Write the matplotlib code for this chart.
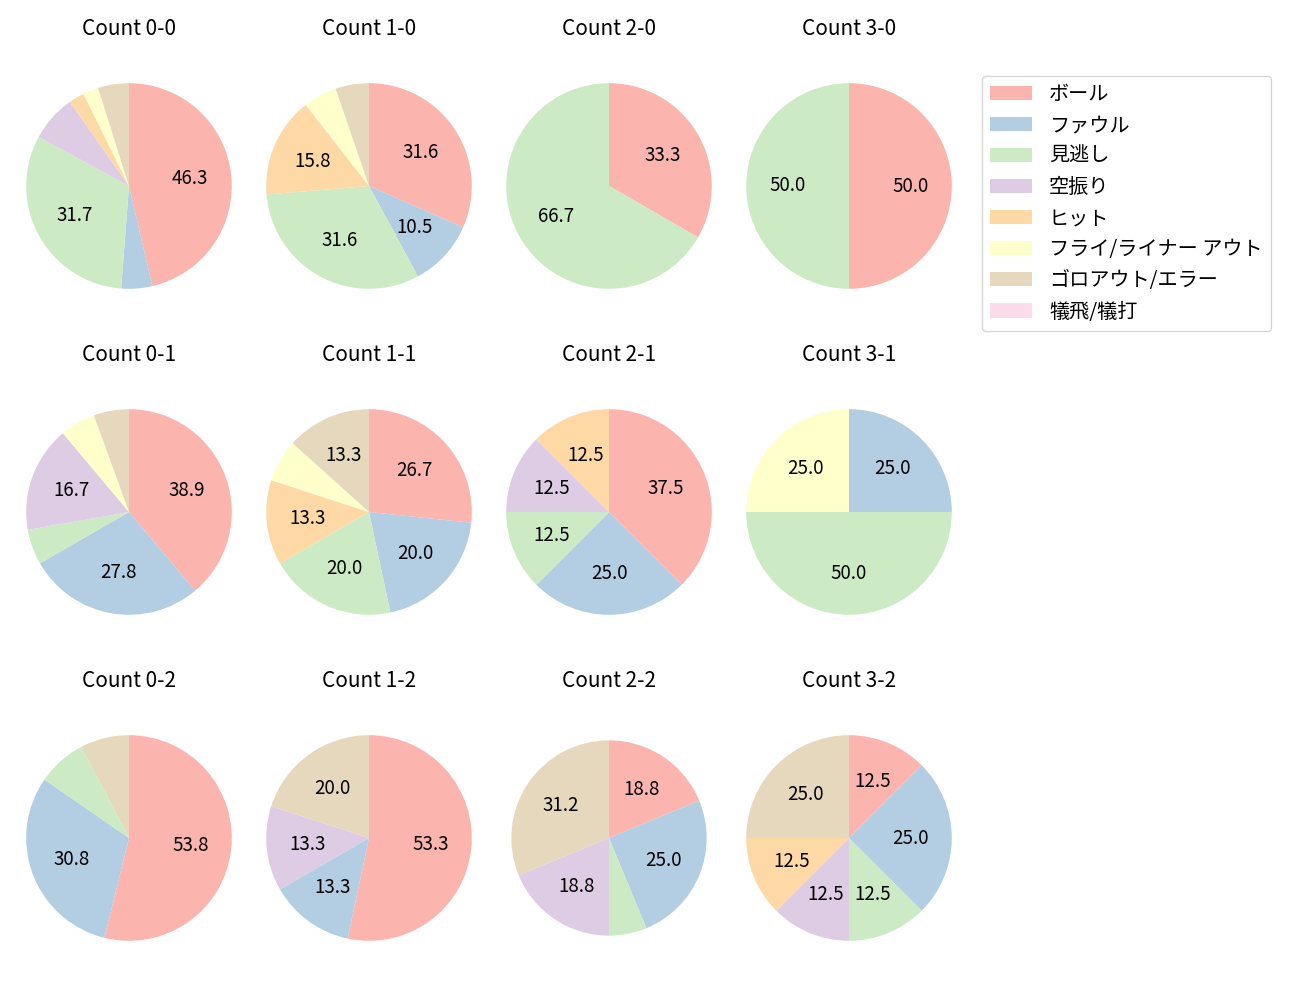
import matplotlib
matplotlib.use("Agg")
import matplotlib.pyplot as plt

plt.rcParams['font.family'] = ['Noto Sans CJK JP', 'DejaVu Sans']

categories = ['ボール', 'ファウル', '見逃し', '空振り', 'ヒット',
              'フライ/ライナー アウト', 'ゴロアウト/エラー', '犠飛/犠打']
colors = ['#fbb4ae', '#b3cde3', '#ccebc5', '#decbe4', '#fed9a6',
          '#ffffcc', '#e5d8bd', '#fddaec']

# counts per category for each ball-strike count
data = {
    '0-0': [19, 2, 13, 3, 1, 1, 2, 0],
    '1-0': [6, 2, 6, 0, 3, 1, 1, 0],
    '2-0': [1, 0, 2, 0, 0, 0, 0, 0],
    '3-0': [1, 0, 1, 0, 0, 0, 0, 0],
    '0-1': [7, 5, 1, 3, 0, 1, 1, 0],
    '1-1': [4, 3, 3, 0, 2, 1, 2, 0],
    '2-1': [3, 2, 1, 1, 1, 0, 0, 0],
    '3-1': [0, 1, 2, 0, 0, 1, 0, 0],
    '0-2': [7, 4, 1, 0, 0, 0, 1, 0],
    '1-2': [8, 2, 0, 2, 0, 0, 3, 0],
    '2-2': [3, 4, 1, 3, 0, 0, 5, 0],
    '3-2': [1, 2, 1, 1, 1, 0, 2, 0],
}
layout = [['0-0', '1-0', '2-0', '3-0'],
          ['0-1', '1-1', '2-1', '3-1'],
          ['0-2', '1-2', '2-2', '3-2']]

W, H = 1300, 1000
fig = plt.figure(figsize=(13, 10), dpi=100)

col_x = [129, 369, 609, 849]
row_y = [186, 512, 838]
size = 257

def fmt(p):
    return f'{p:.1f}' if p >= 10 else ''

for r, row in enumerate(layout):
    for c, key in enumerate(row):
        cx, cy = col_x[c], row_y[r]
        ax = fig.add_axes([(cx - size / 2) / W, 1 - (cy + size / 2) / H, size / W, size / H])
        vals = data[key]
        rad = 0.95 if key == '2-2' else 1.0
        ax.pie(vals, colors=colors, startangle=90, counterclock=False,
               autopct=fmt, pctdistance=0.6, radius=rad,
               textprops={'fontsize': 13.5})
        ax.set_title(f'Count {key}', fontsize=15, pad=16)

handles = [matplotlib.patches.Patch(facecolor=col) for col in colors]
fig.legend(handles, categories, loc='upper left', bbox_to_anchor=(0.755, 0.924),
           borderaxespad=0, fontsize=14.5, labelspacing=0.5, handlelength=2.1,
           handletextpad=0.85)

fig.savefig('out.png', dpi=100)
